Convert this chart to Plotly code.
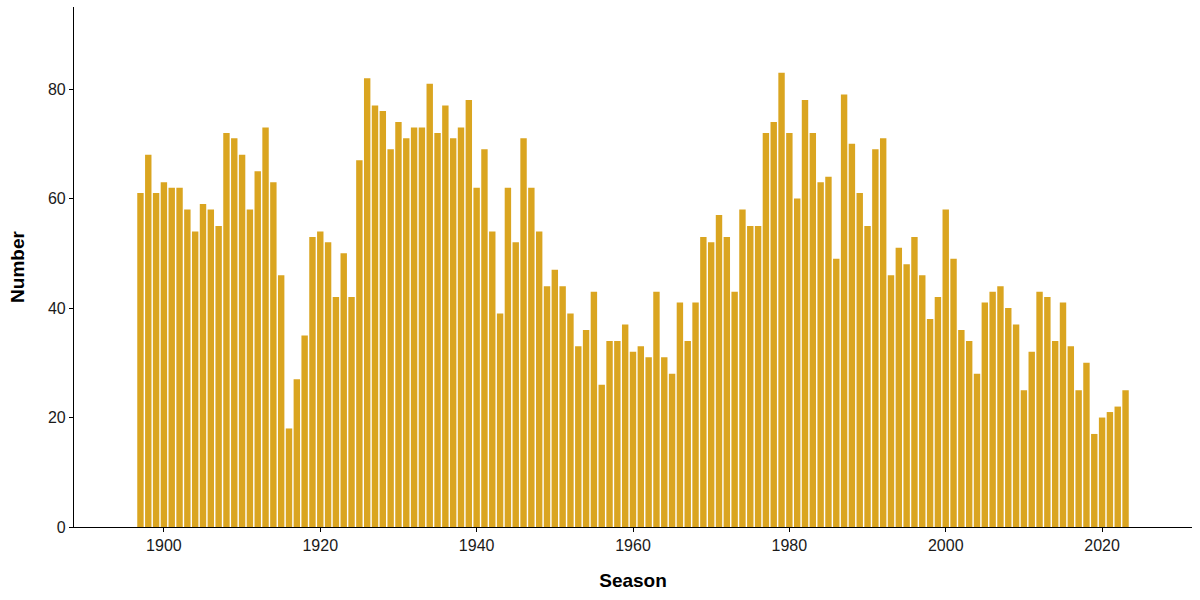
import plotly.graph_objects as go

seasons = list(range(1897, 2024))
numbers = [
    61, 68, 61, 63, 62, 62, 58, 54, 59, 58,   # 1897-1906
    55, 72, 71, 68, 58, 65, 73, 63, 46, 18,   # 1907-1916
    27, 35, 53, 54, 52, 42, 50, 42, 67, 82,   # 1917-1926
    77, 76, 69, 74, 71, 73, 73, 81, 72, 77,   # 1927-1936
    71, 73, 78, 62, 69, 54, 39, 62, 52, 71,   # 1937-1946
    62, 54, 44, 47, 44, 39, 33, 36, 43, 26,   # 1947-1956
    34, 34, 37, 32, 33, 31, 43, 31, 28, 41,   # 1957-1966
    34, 41, 53, 52, 57, 53, 43, 58, 55, 55,   # 1967-1976
    72, 74, 83, 72, 60, 78, 72, 63, 64, 49,   # 1977-1986
    79, 70, 61, 55, 69, 71, 46, 51, 48, 53,   # 1987-1996
    46, 38, 42, 58, 49, 36, 34, 28, 41, 43,   # 1997-2006
    44, 40, 37, 25, 32, 43, 42, 34, 41, 33,   # 2007-2016
    25, 30, 17, 20, 21, 22, 25,               # 2017-2023
]
x_ticks = [1900, 1920, 1940, 1960, 1980, 2000, 2020]
y_ticks = [0, 20, 40, 60, 80]

fig = go.Figure(go.Bar(x=seasons, y=numbers, width=0.82,
                       marker=dict(color="#DAA520", line=dict(width=0))))

font_family = "Liberation Sans, Arial, sans-serif"
fig.update_layout(
    width=1200, height=600,
    margin=dict(l=74, r=8, t=7, b=73),
    plot_bgcolor="white", paper_bgcolor="white",
    font=dict(family=font_family, color="black"),
    showlegend=False,
    xaxis=dict(range=[1888.5, 2031.5], tickvals=x_ticks, ticks="outside",
               ticklen=4, tickcolor="black", tickwidth=1,
               showline=True, linecolor="black", linewidth=1.2,
               showgrid=False, zeroline=False,
               tickfont=dict(size=16, color="#1a1a1a"),
               title=dict(text="<b>Season</b>", font=dict(size=19), standoff=20)),
    yaxis=dict(range=[0, 95], tickvals=y_ticks, ticks="outside",
               ticklen=4, tickcolor="black", tickwidth=1,
               showline=True, linecolor="black", linewidth=1.2,
               showgrid=False, zeroline=False,
               tickfont=dict(size=16, color="#1a1a1a"),
               title=dict(text="<b>Number</b>", font=dict(size=19), standoff=18)),
)

fig.write_html("out.html",
               config={"displayModeBar": False},
               post_script="document.body.style.margin='0';document.body.style.overflow='hidden';")
